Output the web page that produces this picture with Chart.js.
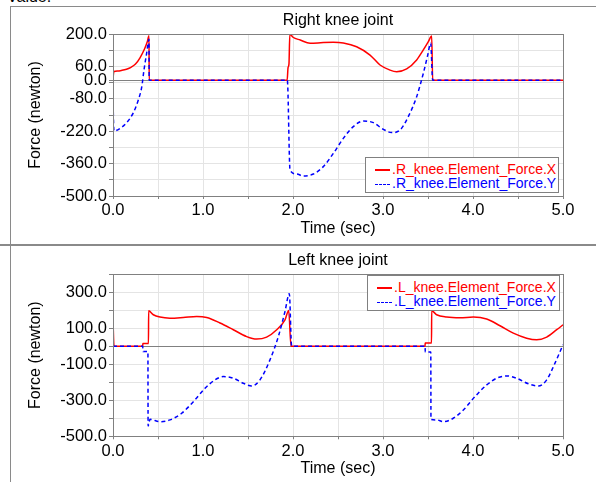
<!DOCTYPE html>
<html>
<head>
<meta charset="utf-8">
<script src="https://cdn.jsdelivr.net/npm/chart.js@4.4.1/dist/chart.umd.min.js"></script>
<style>
body{margin:0;background:#fff;width:596px;height:482px;overflow:hidden;position:relative;font-family:"Liberation Sans",Arial,sans-serif;}
.panel{position:absolute;left:10px;border:1px solid #8a8a8a;border-right:none;}
#topPanel{top:6px;width:600px;height:237px;border-bottom:none}
#sep{position:absolute;left:0;top:244px;width:596px;height:2px;background:#8a8a8a}
#botPanel{top:246px;width:600px;height:240px;border-top:none;border-bottom:none}
#cut{position:absolute;left:7px;top:-12px;font-size:16px;line-height:18px;color:#000}
canvas{position:absolute;left:0}
.legend{position:absolute;background:#fff;border:1px solid #808080;box-sizing:border-box;height:36px;font-size:14px;padding-top:4px}
.legend .row{height:14px;line-height:14px;white-space:nowrap}
.sw{display:inline-block;width:15px;height:0;vertical-align:middle;margin:0 2px 0 9px}
.red{color:#ff0000}.blue{color:#0000ff}
.red .sw{border-top:2px solid #ff0000}
.blue .sw{border-top:1.5px dashed #0000ff}
</style>
</head>
<body>
<div id="cut">Value:</div>
<div class="panel" id="topPanel"></div>
<div id="sep"></div>
<div class="panel" id="botPanel"></div>
<canvas id="chartRight" width="596" height="243" style="top:0"></canvas>
<canvas id="chartLeft" width="596" height="235" style="top:247px"></canvas>
<div class="legend" style="left:365px;top:157px;width:194px">
  <div class="row red"><span class="sw"></span>.R_knee.Element_Force.X</div>
  <div class="row blue"><span class="sw"></span>.R_knee.Element_Force.Y</div>
</div>
<div class="legend" style="left:367px;top:275px;width:193px">
  <div class="row red"><span class="sw"></span>.L_knee.Element_Force.X</div>
  <div class="row blue"><span class="sw"></span>.L_knee.Element_Force.Y</div>
</div>
<script>
// right knee, X force
const rxT = [0, 0.01, 0.05, 0.1, 0.15, 0.2, 0.25, 0.3, 0.35, 0.38, 0.4, 0.402, 1.935, 1.945, 1.955, 1.965, 2.0, 2.08, 2.19, 2.337, 2.448, 2.559, 2.707, 2.856, 2.967, 3.078, 3.152, 3.263, 3.374, 3.448, 3.504, 3.541, 3.552, 5.0];
const rxV = [8, 38, 40, 43, 48, 56, 70, 97, 135, 165, 192, 0, 0, 55, 70, 200, 186, 174, 160, 163, 164, 161, 145, 109, 66, 44, 37, 49, 88, 131, 167, 191, 0, 0];
// right knee, Y force
const ryT = [0, 0.002, 0.011, 0.078, 0.152, 0.226, 0.281, 0.319, 0.344, 0.374, 0.4, 0.402, 1.937, 1.967, 2.041, 2.115, 2.226, 2.337, 2.448, 2.559, 2.67, 2.781, 2.893, 3.004, 3.096, 3.189, 3.281, 3.374, 3.448, 3.493, 3.53, 3.552, 5.0];
const ryV = [-78, -120, -219, -208, -183, -140, -85, -30, 44, 117, 177, 0, 0, -388, -405, -414, -405, -373, -316, -251, -200, -176, -183, -212, -226, -215, -157, -71, 30, 102, 160, 0, 0];
// left knee, X force
const lxT = [0, 0.011, 0.33, 0.332, 0.394, 0.396, 0.448, 0.522, 0.633, 0.781, 0.93, 1.041, 1.189, 1.337, 1.485, 1.596, 1.707, 1.819, 1.911, 1.952, 1.978, 3.467, 3.469, 3.539, 3.541, 3.596, 3.707, 3.856, 4.004, 4.152, 4.3, 4.448, 4.596, 4.707, 4.819, 4.93, 5.0];
const lxV = [146, 0, 0, 14, 14, 196, 174, 161, 155, 159, 165, 159, 128, 91, 53, 39, 50, 91, 146, 198, 0, 0, 17, 17, 196, 174, 161, 157, 161, 150, 113, 72, 44, 35, 50, 91, 118];
// left knee, Y force
const lyT = [0, 0.33, 0.335, 0.388, 0.39, 0.411, 0.522, 0.633, 0.763, 0.893, 1.022, 1.133, 1.226, 1.337, 1.448, 1.541, 1.633, 1.744, 1.837, 1.911, 1.959, 1.985, 3.467, 3.47, 3.531, 3.533, 3.596, 3.67, 3.781, 3.893, 4.022, 4.152, 4.263, 4.374, 4.485, 4.615, 4.726, 4.819, 4.911, 5.0];
const lyV = [0, 0, -30, -30, -443, -406, -419, -409, -372, -308, -234, -187, -169, -178, -206, -221, -187, -76, 53, 192, 291, 0, 0, -33, -33, -406, -409, -419, -400, -354, -280, -215, -178, -165, -178, -209, -221, -187, -94, 7];

const rTicks = [-500, -430, -360, -290, -220, -150, -80, -10, 0, 60, 130, 200];
const rLabels = [-500, -360, -220, -80, 0, 60, 200];
const lTicks = [-500, -400, -300, -200, -100, 0, 100, 200, 300, 400];
const lLabels = [-500, -300, -100, 0, 100, 300];

const FONT = '"Liberation Sans", Arial, sans-serif';

function pts(ts, vs){ return ts.map((t,i)=>({x:t, y:vs[i]})); }

const frame = {
  id: "frame",
  afterDraw(chart, args, opts){
    const {ctx, chartArea:a} = chart;
    ctx.save();
    ctx.strokeStyle = "#808080"; ctx.lineWidth = 1;
    ctx.strokeRect(Math.round(a.left)+0.5, Math.round(a.top)+0.5, Math.round(a.right-a.left), Math.round(a.bottom-a.top));
    ctx.fillStyle = "#000";
    ctx.font = "16px " + FONT;
    ctx.textAlign = "center"; ctx.textBaseline = "middle";
    ctx.fillText(opts.text, (a.left+a.right)/2, opts.y);
    ctx.restore();
  }
};

function makeKnee(canvas, cfg){
  return new Chart(canvas, {
    type: "line",
    data: { datasets: [
      {label: cfg.names[1], data: pts(cfg.yT, cfg.yV), borderColor:"#0000ff", borderWidth:1.5, borderDash:[4,3], pointRadius:0, cubicInterpolationMode:"monotone", order:0},
      {label: cfg.names[0], data: pts(cfg.xT, cfg.xV), borderColor:"#ff0000", borderWidth:1.5, pointRadius:0, cubicInterpolationMode:"monotone", order:1},
    ]},
    plugins: [frame],
    options: {
      responsive:false, animation:false,
      layout:{ padding:{ left:0, right:33, top:cfg.top, bottom:0 } },
      scales:{
        x:{ type:"linear", min:0, max:5,
          ticks:{ stepSize:0.5, autoSkip:false, maxRotation:0, padding:2, color:"#000", font:{family:FONT, size:16.5},
            callback:(v)=> Number.isInteger(v) ? v.toFixed(1) : "" },
          grid:{ color:"#e4e4e4", tickColor:"#808080", tickLength:3 },
          border:{ display:false },
          title:{ display:true, text:"Time (sec)", color:"#000", font:{family:FONT, size:16}, padding:{top:0, bottom:cfg.xTitlePad} },
          afterFit:(s)=>{ s.height = cfg.xHeight; }
        },
        y:{ min:cfg.min, max:cfg.max,
          afterBuildTicks:(s)=>{ s.ticks = cfg.ticks.map(v=>({value:v})); },
          ticks:{ autoSkip:false, padding:2, color:"#000", font:{family:FONT, size:16.5},
            callback:(v)=> cfg.labels.includes(v) ? v.toFixed(1) : "" },
          grid:{ color:(c)=> c.tick && c.tick.value===0 ? "#808080" : "#e4e4e4", tickColor:"#808080", tickLength:4 },
          border:{ display:false },
          title:{ display:true, text:"Force (newton)", color:"#000", font:{family:FONT, size:16}, padding:{top:26, bottom:0} },
          afterFit:(s)=>{ s.width = 113; }
        }
      },
      plugins:{ legend:{ display:false }, tooltip:{ enabled:false }, frame:{ text:cfg.title, y:cfg.titleY } }
    }
  });
}

makeKnee(document.getElementById("chartRight"), {
  title:"Right knee joint", titleY:21, top:34, xHeight:47, xTitlePad:4.4,
  min:-500, max:200, ticks:rTicks, labels:rLabels,
  xT:rxT, xV:rxV, yT:ryT, yV:ryV,
  names:[".R_knee.Element_Force.X", ".R_knee.Element_Force.Y"]
});
makeKnee(document.getElementById("chartLeft"), {
  title:"Left knee joint", titleY:13.5, top:27, xHeight:45.7, xTitlePad:3.4,
  min:-500, max:400, ticks:lTicks, labels:lLabels,
  xT:lxT, xV:lxV, yT:lyT, yV:lyV,
  names:[".L_knee.Element_Force.X", ".L_knee.Element_Force.Y"]
});
</script>
</body>
</html>
